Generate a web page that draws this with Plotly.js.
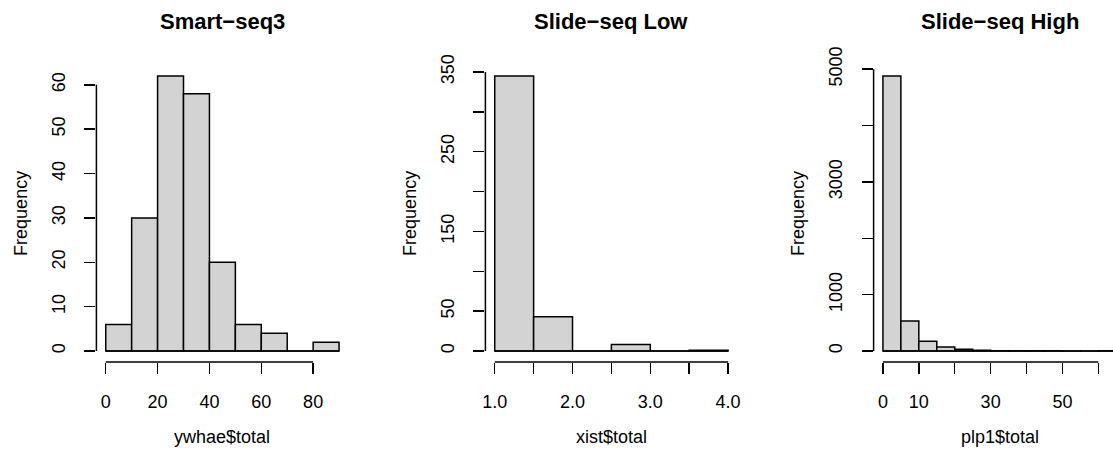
<!DOCTYPE html>
<html>
<head>
<meta charset="utf-8">
<script src="https://cdn.plot.ly/plotly-3.0.1.min.js"></script>
<style>html,body{margin:0;padding:0;background:#fff;}#chart{width:1113px;height:454px;}</style>
</head>
<body>
<div id="chart"></div>
<script>
// ---- data ----
const panelTitles = ["Smart−seq3", "Slide−seq Low", "Slide−seq High"];
const xTitles = ["ywhae$total", "xist$total", "plp1$total"];
const yTitle = "Frequency";

const ywhaeBreaks = [0, 10, 20, 30, 40, 50, 60, 70, 80, 90];
const ywhaeCounts = [6, 30, 62, 58, 20, 6, 4, 0, 2];
const ywhaeXTicks = [0, 20, 40, 60, 80];
const ywhaeXLabels = ["0", "20", "40", "60", "80"];
const ywhaeYTicks = [0, 10, 20, 30, 40, 50, 60];
const ywhaeYLabels = ["0", "10", "20", "30", "40", "50", "60"];

const xistBreaks = [1.0, 1.5, 2.0, 2.5, 3.0, 3.5, 4.0];
const xistCounts = [345, 43, 0, 8, 0, 1];
const xistXTicks = [1.0, 1.5, 2.0, 2.5, 3.0, 3.5, 4.0];
const xistXLabels = ["1.0", "", "2.0", "", "3.0", "", "4.0"];
const xistYTicks = [0, 50, 100, 150, 200, 250, 300, 350];
const xistYLabels = ["0", "50", "", "150", "", "250", "", "350"];

const plp1Breaks = [0, 5, 10, 15, 20, 25, 30, 35, 40, 45, 50, 55, 60, 65];
const plp1Counts = [4880, 533, 175, 71, 32, 12, 6, 5, 4, 4, 1, 1, 4];
const plp1XTicks = [0, 10, 20, 30, 40, 50, 60];
const plp1XLabels = ["0", "10", "", "30", "", "50", ""];
const plp1YTicks = [0, 1000, 2000, 3000, 4000, 5000];
const plp1YLabels = ["0", "1000", "", "3000", "", "5000"];

// ---- layout constants (pixels) ----
const W = 1113, H = 454;
const M = {l: 0, r: 0, t: 65, b: 92};
const plotLefts = [96.4, 485.4, 873.6];
const plotWidth = 252;
const FONT = "Liberation Sans, Arial, Helvetica, sans-serif";

const panels = [
  {breaks: ywhaeBreaks, counts: ywhaeCounts, xt: ywhaeXTicks, xl: ywhaeXLabels, yt: ywhaeYTicks, yl: ywhaeYLabels},
  {breaks: xistBreaks, counts: xistCounts, xt: xistXTicks, xl: xistXLabels, yt: xistYTicks, yl: xistYLabels},
  {breaks: plp1Breaks, counts: plp1Counts, xt: plp1XTicks, xl: plp1XLabels, yt: plp1YTicks, yl: plp1YLabels}
];

function rRange(lo, hi) { const d = (hi - lo) * 0.04; return [lo - d, hi + d]; }

const traces = [];
const shapes = [];
const annotations = [];
const layout = {
  width: W, height: H, margin: M, showlegend: false,
  paper_bgcolor: "#fff", plot_bgcolor: "#fff",
  font: {family: FONT, size: 18, color: "#000"},
  bargap: 0
};
const plotH = H - M.t - M.b;

panels.forEach((p, i) => {
  const n = i + 1;
  const xa = "x" + (n === 1 ? "" : n), ya = "y" + (n === 1 ? "" : n);
  const xKey = "xaxis" + (n === 1 ? "" : n), yKey = "yaxis" + (n === 1 ? "" : n);
  const centers = p.counts.map((_, k) => (p.breaks[k] + p.breaks[k + 1]) / 2);
  const widths = p.counts.map((_, k) => p.breaks[k + 1] - p.breaks[k]);
  const xr = rRange(p.breaks[0], p.breaks[p.breaks.length - 1]);
  const yr = rRange(0, Math.max(...p.counts));
  const left = plotLefts[i];
  let right = left + plotWidth;
  let xRange = xr.slice();
  if (right > W) { // the reference picture is cut off at its right edge
    xRange[1] = xr[0] + (xr[1] - xr[0]) * (W - left) / plotWidth;
    right = W;
  }
  const fullCenter = (xr[0] + xr[1]) / 2;

  traces.push({
    type: "bar", x: centers, y: p.counts, width: widths, xaxis: xa, yaxis: ya,
    marker: {color: "#D3D3D3", line: {color: "#000", width: 1.5}},
    hoverinfo: "x+y"
  });
  // zero-height bins are drawn as a line on the baseline, like R
  traces.push({
    type: "scatter", mode: "lines", xaxis: xa, yaxis: ya,
    x: [p.breaks[0], p.breaks[p.breaks.length - 1]], y: [0, 0],
    line: {color: "#000", width: 1.5}, hoverinfo: "skip"
  });

  const common = {
    showgrid: false, zeroline: false, showline: false,
    ticks: "outside", ticklen: 11, tickwidth: 1.5, tickcolor: "#000",
    tickmode: "array", tickfont: {family: FONT, size: 18, color: "#000"},
    fixedrange: true
  };
  layout[xKey] = Object.assign({}, common, {
    domain: [left / W, right / W], range: xRange, anchor: ya,
    tickvals: p.xt, ticktext: p.xl, tickangle: 0, ticklabelstandoff: 12
  });
  layout[yKey] = Object.assign({}, common, {
    domain: [0, 1], range: yr, anchor: xa,
    tickvals: p.yt, ticktext: p.yl, tickangle: -90, ticklabelstandoff: 12
  });

  // R-style axis lines spanning first to last tick
  shapes.push({type: "line", xref: xa + " domain", yref: ya, x0: 0, x1: 0,
    y0: p.yt[0], y1: p.yt[p.yt.length - 1], line: {color: "#000", width: 1.5}});
  shapes.push({type: "line", xref: xa, yref: ya + " domain", y0: 0, y1: 0,
    x0: p.xt[0], x1: p.xt[p.xt.length - 1], line: {color: "#000", width: 1.5}});

  // titles
  annotations.push({text: panelTitles[i], xref: xa, x: fullCenter, yref: "paper",
    y: (H - M.b - 21) / plotH, yanchor: "middle", xanchor: "center",
    showarrow: false, font: {family: FONT, size: 22, weight: "bold", color: "#000"}});
  annotations.push({text: xTitles[i], xref: xa, x: fullCenter, yref: "paper",
    y: (H - M.b - 437) / plotH, yanchor: "middle", xanchor: "center",
    showarrow: false, font: {family: FONT, size: 18, color: "#000"}});
  annotations.push({text: yTitle, xref: "paper", x: (left - 76) / W, yref: ya + " domain",
    y: 0.5, yanchor: "middle", xanchor: "center", textangle: -90,
    showarrow: false, font: {family: FONT, size: 18, color: "#000"}});
});

layout.shapes = shapes;
layout.annotations = annotations;

Plotly.newPlot("chart", traces, layout, {displayModeBar: false, staticPlot: true});
</script>
</body>
</html>
